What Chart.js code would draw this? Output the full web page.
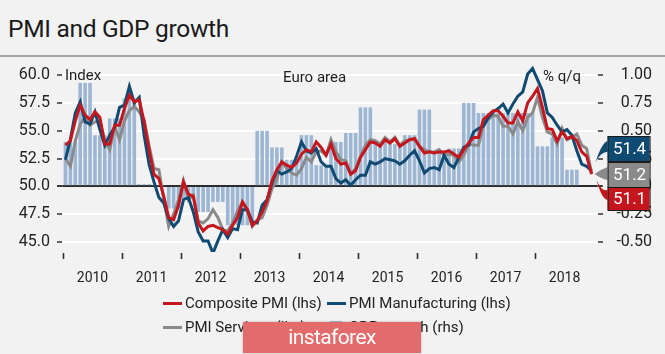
<!DOCTYPE html>
<html>
<head>
<meta charset="utf-8">
<script src="https://cdn.jsdelivr.net/npm/chart.js@4/dist/chart.umd.min.js"></script>
<style>
  html,body{margin:0;padding:0;background:#f2f2f2;}
  body{width:665px;height:354px;overflow:hidden;position:relative;font-family:Roboto,'Liberation Sans',sans-serif;color:#222;}
  #title{position:absolute;left:8px;top:14px;font-size:24.5px;letter-spacing:-0.3px;color:#1a1a1a;}
  #sep{position:absolute;left:0;top:55px;width:665px;height:2px;background:#a6a6a6;}
  canvas{position:absolute;left:0;top:0;}
  .lg{position:absolute;font-size:15px;color:#222;white-space:nowrap;line-height:18px;}
  .sw{position:absolute;width:19px;height:3px;}
  #wm{position:absolute;left:243px;top:322px;width:178px;height:31px;background:#e46b6b;color:#fff;font-size:21px;text-align:center;line-height:30px;letter-spacing:-0.6px;box-shadow:0 0 2px rgba(0,0,0,0.3);}
</style>
</head>
<body>
<div id="title">PMI and GDP growth</div>
<div id="sep"></div>
<canvas id="c" width="665" height="354"></canvas>
<div id="legend"></div>
<div id="wm">instaforex</div>
<script>
// ---- data (monthly, Jan 2010 - Dec 2018) ----
const years = ['2010','2011','2012','2013','2014','2015','2016','2017','2018'];
const composite = [
  53.7,54.1,55.9,57.3,56.4,56.0,56.7,56.2,53.8,53.8,55.5,55.5,
  57.0,58.2,57.6,57.8,55.8,53.3,51.1,50.7,49.1,47.2,47.0,48.3,
  50.4,49.3,49.1,46.7,46.0,46.4,46.5,46.3,46.1,45.7,46.5,47.2,
  48.6,47.9,46.5,46.9,47.7,48.7,50.5,51.5,52.2,51.9,51.7,52.1,
  52.9,53.3,53.1,54.0,53.5,52.8,53.8,52.5,52.0,52.1,51.1,51.4,
  52.6,53.3,54.0,53.9,53.6,54.2,53.9,54.3,53.6,53.9,54.2,54.3,
  53.6,53.0,53.1,53.0,53.1,53.1,53.2,52.9,52.6,53.3,53.9,54.4,
  54.4,56.0,56.4,56.8,56.8,56.3,55.7,55.7,56.7,55.9,57.5,58.1,
  58.8,57.1,55.2,55.1,54.1,54.9,54.3,54.5,54.1,53.1,52.7,51.1
];
const manufacturing = [
  52.4,54.2,56.6,57.6,55.8,55.6,56.7,55.1,53.7,54.6,55.3,57.1,
  57.3,59.0,57.5,58.0,54.6,52.0,50.4,49.0,48.5,47.1,46.4,46.9,
  48.8,49.0,47.7,45.9,45.1,45.1,44.0,45.1,46.1,45.4,46.2,46.1,
  47.9,47.9,46.8,46.7,48.3,48.8,50.3,51.4,51.1,51.3,51.6,52.7,
  54.0,53.2,53.0,53.4,52.2,51.8,51.8,50.7,50.3,50.6,50.1,50.6,
  51.0,51.0,52.2,52.0,52.2,52.5,52.4,52.3,52.0,52.3,52.8,53.2,
  52.3,51.2,51.6,51.7,51.5,52.8,52.0,51.7,52.6,53.5,53.7,54.9,
  55.2,55.4,56.2,56.7,57.0,57.4,56.6,57.4,58.1,58.5,60.1,60.6,
  59.6,58.6,56.6,56.2,55.5,54.9,55.1,54.6,53.2,52.0,51.8,51.4
];
const services = [
  52.5,51.8,54.1,55.6,56.2,55.5,55.8,55.9,54.1,53.3,55.4,54.2,
  55.9,56.8,57.2,56.7,56.0,53.7,51.6,51.5,48.8,46.4,47.5,48.8,
  50.5,48.8,49.2,46.9,46.7,47.1,47.9,47.2,46.1,46.0,46.7,47.8,
  48.6,47.9,46.4,47.0,47.2,48.3,49.8,50.7,52.2,51.6,51.2,51.0,
  51.6,52.6,52.2,53.1,53.2,52.8,54.2,53.1,52.4,52.3,51.1,51.6,
  52.7,53.7,54.2,54.1,53.8,54.4,54.0,54.4,53.7,54.1,54.2,54.2,
  53.6,53.3,53.1,53.1,53.3,52.8,52.9,52.8,52.2,52.8,53.8,53.7,
  53.7,55.5,56.0,56.4,56.3,55.4,55.4,54.7,55.8,55.0,56.2,56.6,
  58.0,56.2,54.9,54.7,53.8,55.2,54.2,54.4,54.7,53.7,53.4,51.2
];
// quarterly GDP growth, % q/q, 2010Q1 - 2018Q3
const gdpGrowth = [
  0.40,0.93,0.46,0.61,
  0.79,0.02,0.01,-0.20,
  -0.11,-0.23,-0.14,-0.35,
  -0.35,0.50,0.35,0.24,
  0.46,0.19,0.40,0.48,
  0.71,0.40,0.38,0.46,
  0.69,0.30,0.34,0.75,
  0.66,0.66,0.66,0.66,
  0.36,0.44,0.15
];
const leftTicks = [45,47.5,50,52.5,55,57.5,60];
const rightTicks = [-0.5,-0.25,0,0.25,0.5,0.75,1.0];
const seriesNames = ['Composite PMI (lhs)','PMI Manufacturing (lhs)','PMI Services (lhs)','GDP growth (rhs)'];
const colors = {red:'#c4161c', blue:'#0f4a72', grey:'#8a8a8a', bar:'#9db6d4'};

// ---- build tables ----
const toPts = arr => arr.map((v,i)=>({x:i+0.5,y:v}));
const barPts = [];
gdpGrowth.forEach((v,q)=>{ for(let m=0;m<3;m++) barPts.push({x:q*3+m+0.5,y:v}); });
const yearBoundaries = years.map((y,i)=>i*12);
const yearMids = years.map((y,i)=>i*12+6);

const FONT = "Roboto, 'Liberation Sans', sans-serif";
Chart.defaults.font.family = FONT;
Chart.defaults.color = '#2a2a2a';

const annot = {
  id:'annot',
  beforeDatasetsDraw(chart){
    const {ctx,chartArea:ca,scales} = chart;
    ctx.save();
    ctx.strokeStyle='#333333'; ctx.lineWidth=1.6;
    ctx.beginPath();
    yearBoundaries.forEach(v=>{
      const x = Math.round(scales.x.getPixelForValue(v))+0.5;
      ctx.moveTo(x, ca.bottom+1); ctx.lineTo(x, ca.bottom+7);
    });
    leftTicks.forEach(v=>{
      const y = Math.round(scales.y.getPixelForValue(v));
      ctx.moveTo(ca.left-6, y); ctx.lineTo(ca.left-1, y);
    });
    rightTicks.forEach(v=>{
      const y = Math.round(scales.y1.getPixelForValue(v));
      ctx.moveTo(ca.right+1, y); ctx.lineTo(ca.right+6, y);
    });
    ctx.stroke();
    ctx.restore();
  },
  afterDatasetDraw(chart,args){
    if(args.index!==0) return;
    const {ctx,chartArea:ca,scales} = chart;
    const y = Math.round(scales.y.getPixelForValue(50));
    ctx.save();
    ctx.strokeStyle='#2b2b2b'; ctx.lineWidth=1.5;
    ctx.beginPath(); ctx.moveTo(ca.left-6,y); ctx.lineTo(ca.right+5,y); ctx.stroke();
    ctx.restore();
  },
  afterDraw(chart){
    const {ctx,chartArea:ca,scales} = chart;
    ctx.save();
    ctx.fillStyle='#1e1e1e';
    ctx.font='15px '+FONT;
    ctx.textBaseline='middle';
    ctx.textAlign='left';
    const y60 = scales.y.getPixelForValue(60);
    ctx.fillText('Index', ca.left+2, y60+1);
    ctx.fillText('Euro area', 283, y60+3);
    ctx.fillText('% q/q', 543, y60+2);
    // end-value boxes
    const last = composite.length-1;
    const ex = scales.x.getPixelForValue(last+0.5);
    const eg = scales.y.getPixelForValue(services[last]);
    const bx = ex+16, bw = 42;
    const boxes = [
      {v:manufacturing[last], c:colors.blue, top:eg-37, h:25, tail:[[bx,eg-32],[bx,eg-21],[ex+4,eg-11]]},
      {v:services[last], c:colors.grey, top:eg-11, h:25, tail:[[bx,eg-6],[bx,eg+7],[ex+3,eg+1]]},
      {v:composite[last], c:colors.red, top:eg+14, h:23, tail:[[bx,eg+17],[bx,eg+27],[ex+5,eg+7]]}
    ];
    boxes.forEach(b=>{
      ctx.fillStyle=b.c; ctx.strokeStyle='#1a1a1a'; ctx.lineWidth=1;
      ctx.beginPath();
      ctx.moveTo(b.tail[0][0],b.tail[0][1]);
      ctx.quadraticCurveTo(b.tail[0][0]-6,b.tail[0][1]+2,b.tail[2][0],b.tail[2][1]);
      ctx.quadraticCurveTo(b.tail[1][0]-6,b.tail[1][1]-1,b.tail[1][0],b.tail[1][1]);
      ctx.closePath(); ctx.fill();
      ctx.fillRect(bx,b.top,bw,b.h);
      ctx.strokeRect(bx+0.5,b.top+0.5,bw,b.h);
      ctx.fillStyle='#ffffff';
      ctx.font='17px '+FONT;
      ctx.textAlign='center';
      ctx.fillText(b.v.toFixed(1), bx+bw/2+1, b.top+b.h/2+1);
    });
    ctx.restore();
  }
};

new Chart(document.getElementById('c'),{
  data:{
    datasets:[
      {type:'bar', label:seriesNames[3], data:barPts, yAxisID:'y1', backgroundColor:colors.bar, borderWidth:0, barPercentage:0.74, categoryPercentage:1, order:3},
      {type:'line', label:seriesNames[2], data:toPts(services), yAxisID:'y', borderColor:colors.grey, borderWidth:3, pointRadius:0, tension:0, order:2},
      {type:'line', label:seriesNames[1], data:toPts(manufacturing), yAxisID:'y', borderColor:colors.blue, borderWidth:3, pointRadius:0, tension:0, order:1},
      {type:'line', label:seriesNames[0], data:toPts(composite), yAxisID:'y', borderColor:colors.red, borderWidth:3, pointRadius:0, tension:0, order:0}
    ]
  },
  options:{
    responsive:false, animation:false, devicePixelRatio:1,
    layout:{padding:{top:64,left:0,right:13,bottom:0}},
    plugins:{legend:{display:false},tooltip:{enabled:false}},
    scales:{
      x:{type:'linear', position:'bottom', min:0, max:108.6, offset:false,
        border:{display:false},
        grid:{display:false},
        afterBuildTicks:a=>{ a.ticks = yearMids.map(v=>({value:v})); },
        ticks:{autoSkip:false, maxRotation:0, padding:10, font:{size:14}, color:'#222',
          callback:v=> years[(v-6)/12]},
        afterFit:a=>{ a.height = 102; }
      },
      y:{type:'linear', position:'left', min:44.1, max:61,
        border:{display:false},
        grid:{color:c=>(c.tick && c.tick.value===50)?'#2b2b2b':'#ffffff', lineWidth:2,
          tickColor:'rgba(0,0,0,0)', tickLength:6},
        afterBuildTicks:a=>{ a.ticks = leftTicks.map(v=>({value:v})); },
        ticks:{padding:7, font:{size:16}, color:'#222', callback:v=>Number(v).toFixed(1)},
        afterFit:a=>{ a.width = 63; }
      },
      y1:{type:'linear', position:'right', min:-0.59, max:1.1,
        border:{display:false},
        grid:{drawOnChartArea:false, tickColor:'rgba(0,0,0,0)', tickLength:5},
        afterBuildTicks:a=>{ a.ticks = rightTicks.map(v=>({value:v})); },
        ticks:{padding:6, crossAlign:'far', font:{size:16}, color:'#222', callback:v=>Number(v).toFixed(2)},
        afterFit:a=>{ a.width = 55; }
      }
    }
  },
  plugins:[annot]
});

// ---- HTML legend ----
const lg = document.getElementById('legend');
const items = [
  {t:seriesNames[0], c:colors.red, x:163, y:303, bar:false},
  {t:seriesNames[1], c:colors.blue, x:327, y:303, bar:false},
  {t:seriesNames[2], c:colors.grey, x:163, y:327, bar:false},
  {t:seriesNames[3], c:colors.bar, x:330, y:327, bar:true}
];
items.forEach(it=>{
  const s=document.createElement('div'); s.className='sw';
  s.style.left=it.x+'px';
  if(it.bar){ s.style.width='12px'; s.style.height='12px'; s.style.top=(it.y-6)+'px'; }
  else { s.style.top=(it.y-1)+'px'; }
  s.style.background=it.c; lg.appendChild(s);
  const d=document.createElement('div'); d.className='lg';
  d.textContent=it.t; d.style.left=(it.x+(it.bar?19:22))+'px'; d.style.top=(it.y-9)+'px';
  lg.appendChild(d);
});
</script>
</body>
</html>
